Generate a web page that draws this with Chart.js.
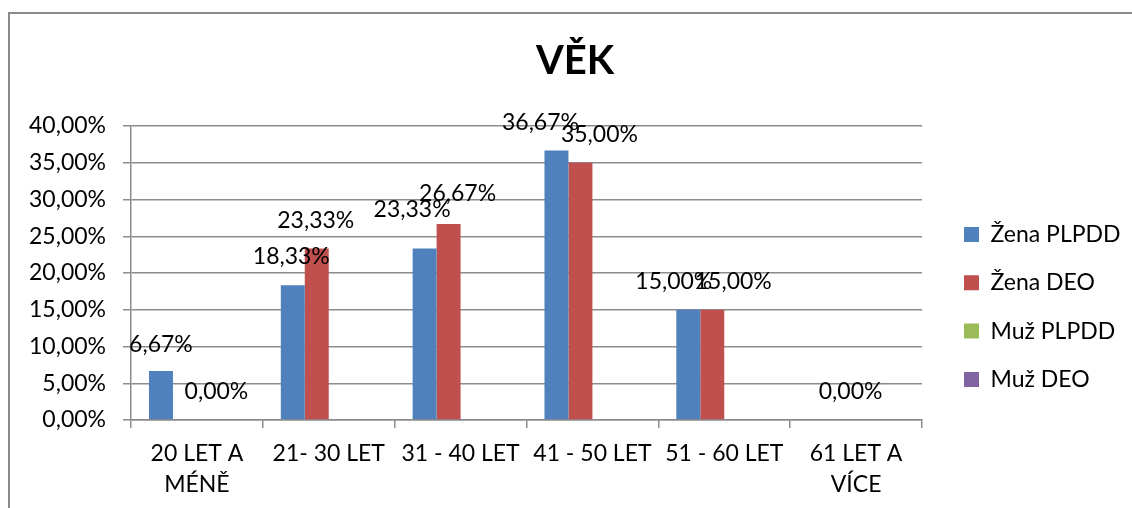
<!DOCTYPE html>
<html><head><meta charset="utf-8">
<script src="https://cdn.jsdelivr.net/npm/chart.js@4.4.1/dist/chart.umd.min.js"></script>
<style>
html,body{margin:0;padding:0;background:#fff;}
#wrap{position:relative;width:1132px;height:508px;overflow:hidden;}
#frame{position:absolute;left:8px;top:12px;width:1200px;height:600px;border-left:2px solid #8a8a8a;border-top:2px solid #8a8a8a;pointer-events:none;}
canvas{position:absolute;left:0;top:0;}
</style></head><body>
<div id="wrap"><canvas id="c" width="1132" height="508"></canvas><div id="frame"></div></div>
<script>
const chartTitle = 'VĚK';
const categories = [['20 LET A', 'MÉNĚ'], '21- 30 LET', '31 - 40 LET', '41 - 50 LET', '51 - 60 LET', ['61 LET A', 'VÍCE']];
const seriesNames = ['Žena PLPDD', 'Žena DEO', 'Muž PLPDD', 'Muž DEO'];
const zenaPLPDD = [6.67, 18.33, 23.33, 36.67, 15.00, 0.00];
const zenaDEO = [0.00, 23.33, 26.67, 35.00, 15.00, 0.00];
const muzPLPDD = [null, null, null, null, null, null];
const muzDEO = [null, null, null, null, null, null];
const yTickValues = [0, 5, 10, 15, 20, 25, 30, 35, 40];

// label nudges (dx, dy from bar top) — null = no label
const labelNudges = [
  [[0, -26], [-1.5, -28], [-12.5, -38.5], [-16, -27], [-14.5, -28], null],
  [[31.5, -27.5], [-1, -27.5], [9, -29.5], [19, -28], [21, -28], [6.5, -27.5]],
  null,
  null
];

const seriesColors = ['#4F81BD', '#C0504D', '#9BBB59', '#8064A2'];
const gridColor = '#8c8c8c';
const FS = 23;

function fmt(v) { return Number(v).toFixed(2).replace('.', ',') + '%'; }

Chart.defaults.font.family = 'Lato';
Chart.defaults.font.size = FS;
Chart.defaults.color = '#000';

const dataLabels = {
  id: 'dataLabels',
  afterDatasetsDraw(chart) {
    const ctx = chart.ctx;
    ctx.save();
    ctx.font = FS + 'px Lato';
    ctx.fillStyle = '#000';
    ctx.textAlign = 'center';
    ctx.textBaseline = 'middle';
    chart.data.datasets.forEach((ds, i) => {
      const nud = labelNudges[i];
      if (!nud) return;
      const meta = chart.getDatasetMeta(i);
      meta.data.forEach((bar, j) => {
        const v = ds.data[j];
        if (v === null || v === undefined || !nud[j]) return;
        ctx.fillText(fmt(v), bar.x + nud[j][0], bar.y + nud[j][1] - 0.5);
      });
    });
    ctx.restore();
  }
};

const legendPlacer = {
  id: 'legendPlacer',
  afterLayout(chart) {
    const lg = chart.legend;
    if (!lg) return;
    const w = lg.width;
    lg.left = chart.chartArea.right + 16.7;
    lg.right = lg.left + w;
  }
};

const seriesData = [zenaPLPDD, zenaDEO, muzPLPDD, muzDEO];

new Chart(document.getElementById('c'), {
  type: 'bar',
  data: {
    labels: categories,
    datasets: seriesNames.map((name, i) => ({
      label: name,
      data: seriesData[i],
      backgroundColor: seriesColors[i],
      borderWidth: 0,
      categoryPercentage: 4 / 5.5,
      barPercentage: 1
    }))
  },
  options: {
    responsive: false,
    animation: false,
    layout: { padding: { left: 18, right: 0, top: 0, bottom: 0 } },
    plugins: {
      title: {
        display: true, text: chartTitle, color: '#000',
        font: { family: 'Lato', size: 40, weight: 'bold', lineHeight: 1.2 },
        padding: { top: 37, bottom: 41 }
      },
      legend: {
        position: 'right', align: 'start',
        title: { display: true, text: ' ', font: { size: 10, lineHeight: 1 }, padding: { top: 187.7, bottom: 0 } },
        labels: { boxWidth: 15, boxHeight: 15, padding: 25.3, color: '#000', font: { size: FS } }
      },
      tooltip: { enabled: false }
    },
    scales: {
      x: {
        offset: true,
        grid: { display: true, offset: true, drawOnChartArea: false, drawTicks: true, tickLength: 8, color: gridColor, lineWidth: 1.5 },
        border: { display: true, color: gridColor, width: 1.5 },
        ticks: { padding: 10, color: '#000', font: { size: FS, lineHeight: 1.35 }, maxRotation: 0, autoSkip: false },
        afterFit(s) { s.height = 88; }
      },
      y: {
        min: 0, max: 40,
        ticks: { stepSize: 5, padding: 17, color: '#000', callback: (v) => fmt(v) },
        afterBuildTicks(s) { s.ticks = yTickValues.map(v => ({ value: v })); },
        grid: { color: gridColor, lineWidth: 1.5, tickLength: 8 },
        border: { display: true, color: gridColor, width: 1.5 },
        afterFit(s) { s.width = 113; }
      },
      spacer: {
        type: 'linear', position: 'right', display: true,
        grid: { display: false, drawTicks: false },
        border: { display: false },
        ticks: { display: false },
        afterFit(s) {
          const lw = (s.chart.legend && s.chart.legend.width) || 184;
          s.width = 1132 - 922 - lw;
        }
      }
    }
  },
  plugins: [dataLabels, legendPlacer]
});
</script>
</body></html>
